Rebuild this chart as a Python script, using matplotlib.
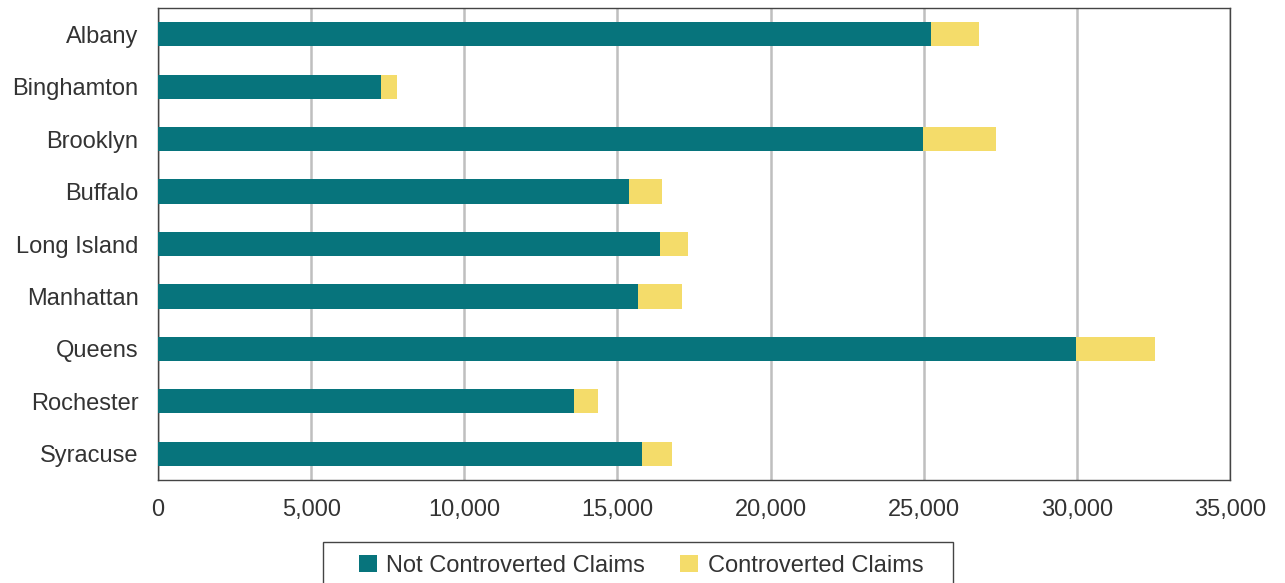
import matplotlib
matplotlib.use("Agg")
import matplotlib.pyplot as plt
from matplotlib.patches import Rectangle
import numpy as np

plt.rcParams['font.family'] = ['Liberation Sans', 'DejaVu Sans']

# offices and claim counts
offices = ['Albany', 'Binghamton', 'Brooklyn', 'Buffalo', 'Long Island',
           'Manhattan', 'Queens', 'Rochester', 'Syracuse']
not_controverted = [25240, 7280, 24985, 15370, 16400, 15680, 29970, 13590, 15810]
controverted = [1555, 520, 2365, 1095, 905, 1425, 2580, 775, 960]

teal = '#07747c'
yellow = '#f4dc6a'

fig = plt.figure(figsize=(12.85, 5.83), dpi=100)
ax = fig.add_axes([158 / 1285, 1 - 480 / 583, (1230 - 158) / 1285, 472 / 583])

y = np.arange(len(offices))
ax.barh(y, not_controverted, height=0.46, color=teal, label='Not Controverted Claims', zorder=3)
ax.barh(y, controverted, left=not_controverted, height=0.46, color=yellow,
        label='Controverted Claims', zorder=3)

ax.set_ylim(len(offices) - 0.5, -0.5)
ax.set_yticks(y)
ax.set_yticklabels(offices)
ax.set_xlim(0, 35000)
ax.set_xticks(np.arange(0, 35001, 5000))
ax.set_xticklabels([f'{v:,}' for v in range(0, 35001, 5000)])
ax.tick_params(axis='both', length=0, labelsize=17, colors='#333333')
ax.tick_params(axis='y', pad=14)
ax.tick_params(axis='x', pad=14)
ax.grid(axis='x', color='#bfbfbf', linewidth=1.8, zorder=0)
for s in ax.spines.values():
    s.set_color('#444444')
    s.set_linewidth(1.0)

# legend box runs off the bottom of the figure, so draw the frame by hand
fig.patches.append(Rectangle((323 / 1285, -0.05), (953 - 323) / 1285, 0.05 + 41 / 583,
                             transform=fig.transFigure, fill=False,
                             edgecolor='#444444', linewidth=1.0))
fig.legend(loc='upper left', bbox_to_anchor=(359 / 1285, 1 - 555 / 583), ncol=2,
           fontsize=17, frameon=False, handlelength=0.75, handleheight=0.75,
           columnspacing=1.5, handletextpad=0.4, borderpad=0,
           labelcolor='#333333', borderaxespad=0)

fig.savefig('out.png', dpi=100)
